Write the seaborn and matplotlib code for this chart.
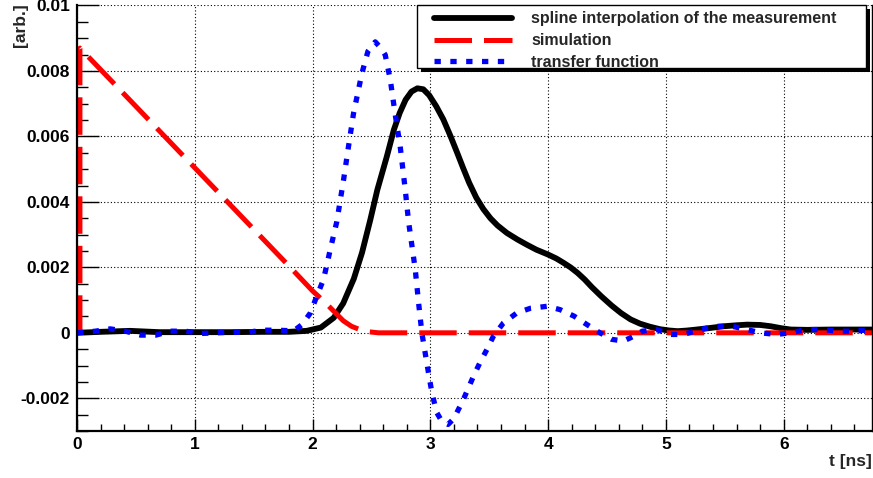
import matplotlib
matplotlib.use('Agg')
import matplotlib.pyplot as plt
from matplotlib.patches import Rectangle
from matplotlib.ticker import AutoMinorLocator, FixedLocator, FixedFormatter
import seaborn as sns

# spline interpolation of the measurement
t_meas = [0.0, 0.2, 0.45, 0.7, 1.0, 1.3, 1.6, 1.8, 1.95, 2.07, 2.18, 2.26, 2.35, 2.42,
          2.49, 2.55, 2.63, 2.69, 2.74, 2.79, 2.84, 2.89, 2.94, 2.99, 3.05, 3.11, 3.17,
          3.23, 3.28, 3.33, 3.39, 3.45, 3.51, 3.57, 3.65, 3.74, 3.82, 3.9, 4.0, 4.07,
          4.13, 4.19, 4.25, 4.31, 4.37, 4.45, 4.54, 4.62, 4.7, 4.78, 4.86, 4.95, 5.03,
          5.1, 5.18, 5.26, 5.38, 5.49, 5.6, 5.69, 5.8, 5.89, 5.98, 6.06, 6.2, 6.4, 6.75]
v_meas = [0.0, 0.00003, 0.00006, 0.00002, 0.00002, 0.00002, 0.00003, 0.00003, 0.00006,
          0.00016, 0.00046, 0.0009, 0.00165, 0.00245, 0.00345, 0.00437, 0.00538, 0.0062,
          0.00672, 0.00712, 0.00737, 0.00747, 0.00744, 0.00726, 0.00692, 0.00652,
          0.00602, 0.00548, 0.00502, 0.00458, 0.00413, 0.00378, 0.0035, 0.00328, 0.00305,
          0.00285, 0.00269, 0.00254, 0.00239, 0.00227, 0.00214, 0.002, 0.00183, 0.00163,
          0.0014, 0.00112, 0.00083, 0.0006, 0.00041, 0.00028, 0.00019, 0.00011, 0.00007,
          0.00005, 0.00007, 0.0001, 0.00015, 0.0002, 0.00023, 0.00025, 0.00024, 0.0002,
          0.00014, 0.0001, 0.00009, 0.0001, 0.0001]

# simulation
t_sim = [0.025, 0.025, 1.8, 2.0, 2.1, 2.18, 2.26, 2.33, 2.4, 2.48, 2.56, 6.75]
v_sim = [0.0, 0.0087, 0.00204, 0.00128, 0.00095, 0.00066, 0.00037, 0.0002, 0.0001,
         0.00003, 0.0, 0.0]

# transfer function
t_tf = [0.0, 0.156, 0.283, 0.41, 0.54, 0.67, 0.79, 0.92, 1.05, 1.19, 1.31, 1.44, 1.57,
        1.7, 1.84, 1.91, 1.98, 2.036, 2.093, 2.15, 2.206, 2.263, 2.305, 2.348, 2.419,
        2.47, 2.532, 2.58, 2.617, 2.66, 2.7, 2.744, 2.787, 2.815, 2.872, 2.9, 2.928,
        2.97, 3.013, 3.055, 3.1, 3.15, 3.2, 3.28, 3.367, 3.42, 3.48, 3.536, 3.62, 3.735,
        3.85, 3.99, 4.1, 4.22, 4.33, 4.44, 4.54, 4.64, 4.73, 4.8, 4.92, 5.04, 5.15, 5.29,
        5.43, 5.56, 5.69, 5.8, 5.94, 6.06, 6.19, 6.33, 6.45, 6.6, 6.75]
v_tf = [0.0, 0.00005, 0.00012, 0.00005, -0.00007, -0.00007, 0.00005, 0.00005, -0.00002,
        0.0, 0.00002, 0.00001, 0.00008, 0.00008, 0.00006, 0.00025, 0.0006, 0.00112,
        0.00163, 0.00254, 0.0034, 0.00467, 0.00569, 0.00671, 0.00793, 0.0086, 0.00889,
        0.0087, 0.00849, 0.00773, 0.00671, 0.00569, 0.00437, 0.0034, 0.00193, 0.00092,
        0.0, -0.00092, -0.00183, -0.00244, -0.00272, -0.0028, -0.00262, -0.00204,
        -0.00132, -0.00092, -0.00051, -0.0001, 0.0003, 0.00061, 0.00075, 0.00081,
        0.00071, 0.00051, 0.00025, 0.0, -0.0002, -0.00025, -0.0001, 0.00005, 0.0001,
        -0.00005, -0.00005, 0.0001, 0.0002, 0.0002, 0.0001, 0.0, -0.00005, 0.0, 0.0001,
        0.0001, 0.00005, 0.00005, 0.0001]

labels = ['spline interpolation of the measurement', 'simulation', 'transfer function']
y_ticks = [-0.002, 0.0, 0.002, 0.004, 0.006, 0.008, 0.01]
y_tick_labels = ['-0.002', '0', '0.002', '0.004', '0.006', '0.008', '0.01']
x_ticks = [0, 1, 2, 3, 4, 5, 6]

sns.set_style('ticks')
plt.rcParams['font.family'] = ['Liberation Sans', 'DejaVu Sans']
plt.rcParams['font.weight'] = 'bold'

fig = plt.figure(figsize=(8.73, 4.78), dpi=100)
ax = fig.add_axes([0.0882, 0.0983, 0.9107, 0.8902])

sns.lineplot(x=t_meas, y=v_meas, ax=ax, color='black', linewidth=4.2,
             estimator=None, sort=False, label=labels[0])
sns.lineplot(x=t_sim, y=v_sim, ax=ax, color='red', linewidth=3.6,
             estimator=None, sort=False, label=labels[1], dashes=False)
sns.lineplot(x=t_tf, y=v_tf, ax=ax, color='blue', linewidth=3.8,
             estimator=None, sort=False, label=labels[2], dashes=False)
ax.lines[0].set_solid_joinstyle('round')
ax.lines[1].set_dashes([7.5, 2.4])
ax.lines[2].set_dashes([1.2, 1.8])

ax.set_xlim(0, 6.75)
ax.set_ylim(-0.003, 0.01)

ax.xaxis.set_major_locator(FixedLocator(x_ticks))
ax.xaxis.set_minor_locator(AutoMinorLocator(5))
ax.yaxis.set_major_locator(FixedLocator(y_ticks))
ax.yaxis.set_major_formatter(FixedFormatter(y_tick_labels))
ax.yaxis.set_minor_locator(AutoMinorLocator(4))

ax.tick_params(axis='both', which='both', direction='in', color='black', width=1.0,
               labelsize=12.5, labelcolor='black')
ax.tick_params(axis='y', which='major', length=16, pad=5)
ax.tick_params(axis='y', which='minor', length=8)
ax.tick_params(axis='x', which='major', length=9, pad=4)
ax.tick_params(axis='x', which='minor', length=5)
for lab in ax.get_xticklabels() + ax.get_yticklabels():
    lab.set_fontweight('bold')

ax.grid(True, which='major', color='black', linestyle=(0, (1, 2)), linewidth=0.8)

for side in ['left', 'bottom']:
    ax.spines[side].set_linewidth(1.6)
    ax.spines[side].set_color('black')
ax.spines['right'].set_linewidth(1.0)
ax.spines['right'].set_color('black')
ax.spines['top'].set_visible(False)

ax.set_xlabel('t [ns]', loc='right', fontsize=12.5, fontweight='bold')
ax.xaxis.set_label_coords(1.0, -0.055)
ax.set_ylabel('[arb.]', loc='top', fontsize=12.5, fontweight='bold')
ax.yaxis.set_label_coords(-0.062, 1.006)

# legend box with a solid black shadow, ROOT style
box_x0, box_y0, box_w, box_h = 0.4277, 0.8531, 0.5648, 0.1469
ax.add_patch(Rectangle((box_x0 + 0.005, box_y0 - 0.0094), box_w, box_h,
                       transform=ax.transAxes, facecolor='black', edgecolor='none',
                       zorder=5, clip_on=False))
ax.add_patch(Rectangle((box_x0, box_y0), box_w, box_h, transform=ax.transAxes,
                       facecolor='white', edgecolor='black', linewidth=1.0,
                       zorder=5.1, clip_on=False))

leg = ax.legend(loc='upper left', bbox_to_anchor=(0.449, 0.986), borderaxespad=0,
                borderpad=0, fontsize=11.5, handlelength=4.9, handletextpad=1.2,
                labelspacing=0.42, frameon=False)
leg.set_zorder(6)
for txt in leg.get_texts():
    txt.set_fontweight('bold')

fig.savefig('out.png', dpi=100, facecolor='white')
plt.close(fig)
